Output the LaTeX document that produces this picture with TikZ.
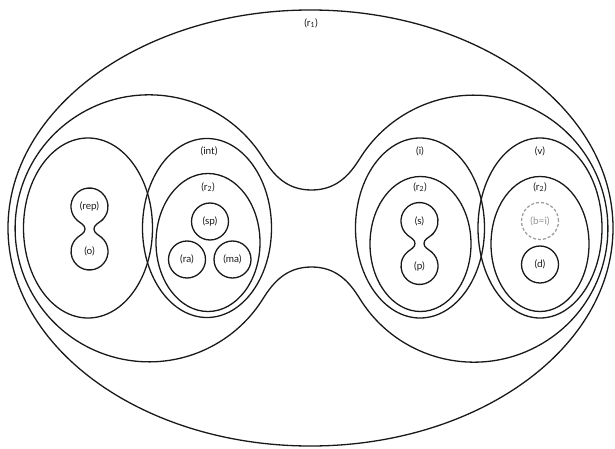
\documentclass[tikz,border=0pt]{standalone}
\usepackage{fontspec}
\setmainfont{Lato}
\begin{document}
\begin{tikzpicture}[x=1pt,y=-1pt,line width=1.3pt,
  region/.style={draw=black!90},
  lbl/.style={font=\fontsize{10}{11}\selectfont,inner sep=0pt,text=black!90},
  disc/.style={circle,draw=black!90,minimum size=37pt,inner sep=0pt,font=\fontsize{10}{11}\selectfont,text=black!90},
  ghost/.style={disc,draw=gray!75,dash pattern=on 3pt off 2pt,text=gray!85}]
\useasboundingbox (0,0) rectangle (615,449);

% outer region r1
\draw[region] (310.5,228) ellipse [x radius=302.5,y radius=218];
\node[lbl] (r1) at (311,23) {(r\textsubscript{1})};

% large peanut
\draw[region] (311.5,190) .. controls (286.5,190) and (273.5,175) .. (263,158)
  arc[start angle=-31.8,end angle=-328.2,x radius=134,y radius=133.5]
  .. controls (273.5,282) and (286.5,267) .. (311.5,267)
  .. controls (336.5,267) and (349.5,282) .. (360,299)
  arc[start angle=148.2,end angle=-148.2,x radius=134,y radius=133.5]
  .. controls (349.5,175) and (336.5,190) .. (311.5,190) -- cycle;

% left ellipse with rep / o
\draw[region] (88,228) ellipse [x radius=64.5,y radius=90];
\begin{scope}[shift={(89.5,206.5)}]
\draw[region] (11.9,14.2) .. controls (8.8,16.8) and (4.5,18.5) .. (4.5,22.5)
  .. controls (4.5,26.5) and (8.8,28.2) .. (11.9,30.8)
  arc[start angle=-50,end angle=230,radius=18.5]
  .. controls (-8.8,28.2) and (-4.5,26.5) .. (-4.5,22.5)
  .. controls (-4.5,18.5) and (-8.8,16.8) .. (-11.9,14.2)
  arc[start angle=130,end angle=410,radius=18.5] -- cycle;
\node[lbl] (rep) at (0,0) {(rep)};
\node[lbl] (o) at (0,45) {(o)};
\end{scope}

% int
\draw[region] (207,228) ellipse [x radius=64.5,y radius=89.5];
\node[lbl] (int) at (209,151.5) {(int)};
\draw[region] (208,242.5) ellipse [x radius=52,y radius=69];
\node[lbl] (r2a) at (208,187) {(r\textsubscript{2})};
\node[disc] (sp) at (210,221.5) {(sp)};
\node[disc] (ra) at (187,259.5) {(ra)};
\node[disc] (ma) at (232.5,259.5) {(ma)};

% i
\draw[region] (420,228) ellipse [x radius=64.5,y radius=90];
\node[lbl] (i) at (420,151.5) {(i)};
\draw[region] (420.5,244) ellipse [x radius=50.5,y radius=67.5];
\node[lbl] (r2b) at (420,187) {(r\textsubscript{2})};
\begin{scope}[shift={(419.5,221)}]
\draw[region] (11.9,14.2) .. controls (8.8,16.8) and (4.5,18.5) .. (4.5,22.5)
  .. controls (4.5,26.5) and (8.8,28.2) .. (11.9,30.8)
  arc[start angle=-50,end angle=230,radius=18.5]
  .. controls (-8.8,28.2) and (-4.5,26.5) .. (-4.5,22.5)
  .. controls (-4.5,18.5) and (-8.8,16.8) .. (-11.9,14.2)
  arc[start angle=130,end angle=410,radius=18.5] -- cycle;
\node[lbl] (s) at (0,0) {(s)};
\node[lbl] (p) at (0,45) {(p)};
\end{scope}

% v
\draw[region] (540,228) ellipse [x radius=62,y radius=90];
\node[lbl] (v) at (540,151.5) {(v)};
\draw[region] (540,244) ellipse [x radius=49,y radius=67.5];
\node[lbl] (r2c) at (540,187) {(r\textsubscript{2})};
\node[ghost] (bi) at (540,221) {(b=i)};
\node[disc] (d) at (540,264.5) {(d)};
\end{tikzpicture}
\end{document}
